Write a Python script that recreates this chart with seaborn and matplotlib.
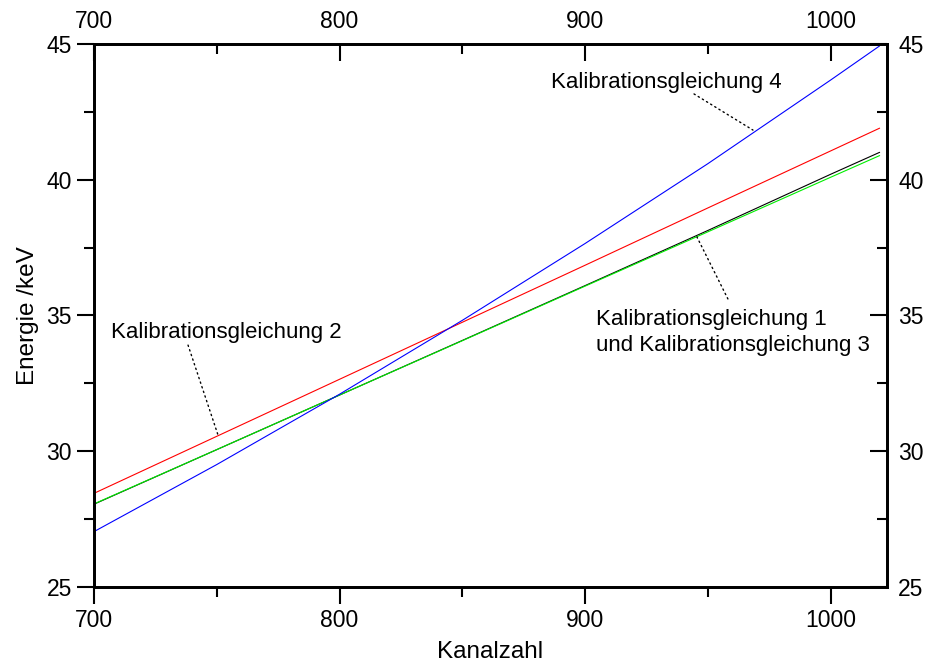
import numpy as np
import pandas as pd
import matplotlib
matplotlib.use("Agg")
import matplotlib.pyplot as plt
import seaborn as sns
from matplotlib.ticker import MultipleLocator

# ---- data ----
kanal = [700, 750, 800, 850, 900, 950, 1000, 1020]
kal1 = [28.05, 30.06, 32.07, 34.08, 36.10, 38.13, 40.20, 41.01]   # black
kal3 = [28.06, 30.06, 32.07, 34.07, 36.08, 38.08, 40.09, 40.89]   # green
kal2 = [28.45, 30.55, 32.65, 34.75, 36.85, 38.96, 41.06, 41.90]   # red
kal4 = [27.04, 29.51, 32.10, 34.82, 37.65, 40.59, 43.67, 44.93]   # blue
names = ["Kalibrationsgleichung 1", "Kalibrationsgleichung 3",
         "Kalibrationsgleichung 2", "Kalibrationsgleichung 4"]
colors = ["#000000", "#00EE00", "#FF0000", "#0000FF"]
x_ticks = [700, 800, 900, 1000]
y_ticks = [25, 30, 35, 40, 45]

df = pd.concat([
    pd.DataFrame({"Kanalzahl": kanal, "Energie": vals, "Gleichung": n})
    for vals, n in zip([kal1, kal3, kal2, kal4], names)
])

sns.set_style("ticks")
plt.rcParams["font.family"] = ["Liberation Sans", "DejaVu Sans"]
plt.rcParams.update({"text.color": "black", "axes.labelcolor": "black",
                     "xtick.color": "black", "ytick.color": "black",
                     "axes.edgecolor": "black"})

fig = plt.figure(figsize=(9.26, 6.66), dpi=100)
ax = fig.add_axes([94 / 926, 1 - 587 / 666, (887 - 94) / 926, (587 - 44) / 666])

sns.lineplot(data=df, x="Kanalzahl", y="Energie", hue="Gleichung",
             hue_order=names, palette=dict(zip(names, colors)),
             legend=False, ax=ax, linewidth=0.8)

TS = 16.5
xlim = (700, 1023)
ylim = (25, 45)
ax.set_xlim(*xlim)
ax.set_ylim(*ylim)
ax.set_xticks(x_ticks)
ax.set_yticks(y_ticks)
ax.xaxis.set_minor_locator(MultipleLocator(50))
ax.yaxis.set_minor_locator(MultipleLocator(2.5))
ax.tick_params(which="major", direction="out", length=12, width=1.5,
               labelsize=TS, pad=4)
ax.tick_params(which="minor", direction="out", length=7, width=1.5)
ax.set_xlabel("Kanalzahl", fontsize=17.5, labelpad=6)
ax.set_ylabel("Energie /keV", fontsize=17.5, labelpad=5)
for s in ax.spines.values():
    s.set_linewidth(1.8)
    s.set_visible(True)

# top axis
axt = ax.twiny()
axt.set_xlim(*xlim)
axt.set_xticks(x_ticks)
axt.xaxis.set_minor_locator(MultipleLocator(50))
axt.tick_params(axis="x", which="major", direction="in", length=12, width=1.5,
                labelsize=TS, pad=8)
axt.tick_params(axis="x", which="minor", direction="in", length=7, width=1.5)

# right axis
axr = ax.twinx()
axr.set_ylim(*ylim)
axr.set_yticks(y_ticks)
axr.yaxis.set_minor_locator(MultipleLocator(2.5))
axr.tick_params(axis="y", which="major", direction="in", length=12, width=1.5,
                labelsize=TS, pad=8)
axr.tick_params(axis="y", which="minor", direction="in", length=7, width=1.5)
for a in (axt, axr):
    for s in a.spines.values():
        s.set_linewidth(1.8)

AS = 16
dot = dict(arrowstyle="-", linestyle=(0, (1, 2.5)), linewidth=1.0, color="black",
           shrinkA=0, shrinkB=0)
ax.text(886.2, 43.6, "Kalibrationsgleichung 4", fontsize=AS, ha="left", va="center")
ax.annotate("", xy=(968.4, 41.83), xytext=(944.4, 43.16), arrowprops=dot)
ax.text(706.9, 34.39, "Kalibrationsgleichung 2", fontsize=AS, ha="left", va="center")
ax.annotate("", xy=(750.5, 30.6), xytext=(738.3, 33.91), arrowprops=dot)
ax.text(904.5, 34.37, "Kalibrationsgleichung 1\nund Kalibrationsgleichung 3",
        fontsize=AS, ha="left", va="center", linespacing=1.35)
ax.annotate("", xy=(945.6, 37.89), xytext=(958.2, 35.61), arrowprops=dot)

fig.savefig("out.png", dpi=100)
